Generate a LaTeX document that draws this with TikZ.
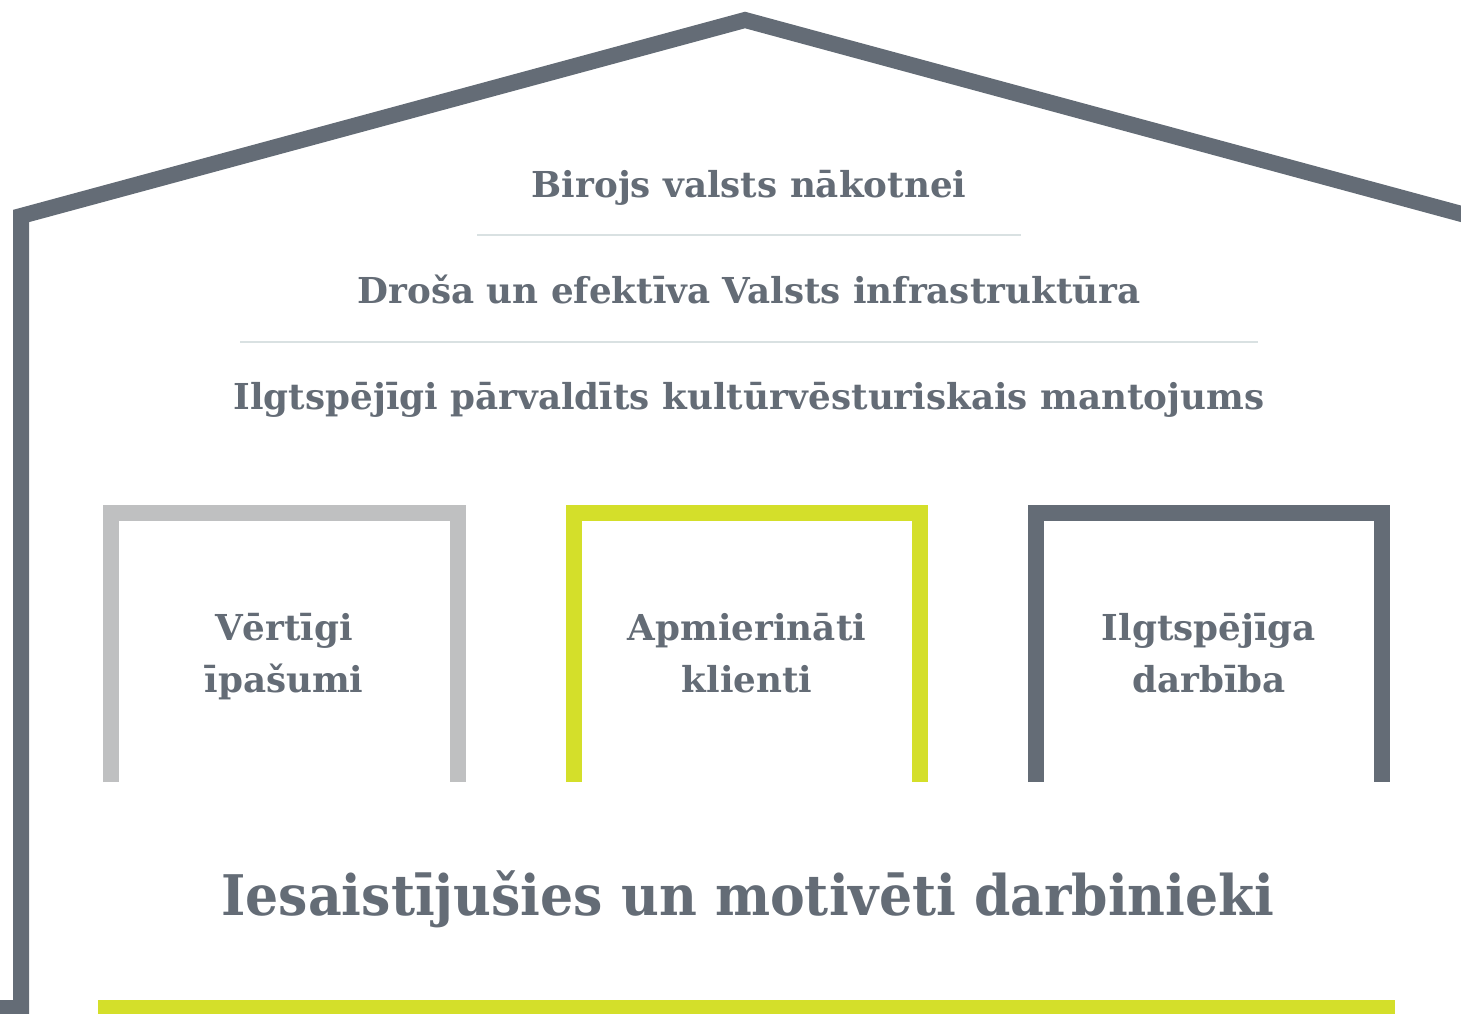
\documentclass[tikz,border=0pt]{standalone}
\usepackage{fontspec}
\setmainfont{DejaVu Serif}
\newfontfamily\narrowserif{DejaVu Serif}[FakeStretch=0.93]
\usepackage{xcolor}
\definecolor{slate}{HTML}{646C76}
\definecolor{lime}{HTML}{D4DF2A}
\definecolor{silver}{HTML}{BFC0C1}
\definecolor{mist}{HTML}{D9E1E2}
\tikzset{
    house-line/.style = {draw=slate, line width=16pt, line join=miter},
    pillar/.style = {line width=16pt, line join=miter},
    goal-text/.style = {text=slate, font=\bfseries\fontsize{35.7}{52}\selectfont, anchor=base, inner sep=0pt},
    pillar-text/.style = {goal-text, align=center},
    base-text/.style = {text=slate, font=\narrowserif\bfseries\fontsize{56}{60}\selectfont, anchor=base, inner sep=0pt},
    goal-rule/.style = {draw=mist, line width=2pt},
}

\begin{document}
\begin{tikzpicture}[x=1pt, y=-1pt]
\useasboundingbox (0,0) rectangle (1461,1014);
\clip (0,0) rectangle (1461,1014);
% house outline
\draw[house-line] (-20,1008) -- (21,1008) -- (21,216) -- (745,20) -- (1469,216) -- (1469,1008);
% goals under the roof
\node[goal-text] (vision) at (749,197) {Birojs valsts nākotnei};
\draw[goal-rule] (477,235) -- (1021,235);
\node[goal-text] (infra) at (749,303) {Droša un efektīva Valsts infrastruktūra};
\draw[goal-rule] (240,342) -- (1258,342);
\node[goal-text] (heritage) at (749,409) {Ilgtspējīgi pārvaldīts kultūrvēsturiskais mantojums};
% pillars
\draw[pillar, silver] (111,782) -- (111,513) -- (458,513) -- (458,782);
\draw[pillar, lime] (574,782) -- (574,513) -- (920,513) -- (920,782);
\draw[pillar, slate] (1036,782) -- (1036,513) -- (1382,513) -- (1382,782);
\node[pillar-text] (assets) at (284,692) {Vērtīgi\\īpašumi};
\node[pillar-text] (clients) at (747,692) {Apmierināti\\klienti};
\node[pillar-text] (operation) at (1209,692) {Ilgtspējīga\\darbība};
% foundation
\node[base-text] (staff) at (748,915) {Iesaistījušies un motivēti darbinieki};
\fill[lime] (98,1000) rectangle (1395,1020);
\end{tikzpicture}
\end{document}
